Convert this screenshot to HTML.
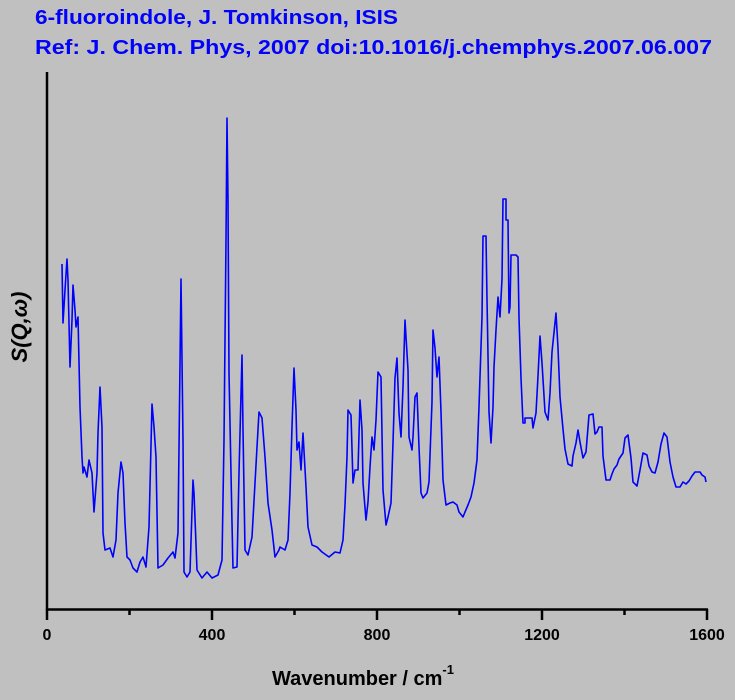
<!DOCTYPE html>
<html><head><meta charset="utf-8"><style>
html,body{margin:0;padding:0;background:#c0c0c0;}
svg{display:block;}
</style></head><body>
<svg width="735" height="700" viewBox="0 0 735 700" xmlns="http://www.w3.org/2000/svg" font-family="Liberation Sans, Arial, sans-serif">
<rect width="735" height="700" fill="#c0c0c0"/>
<text x="35" y="24" font-size="20" font-weight="bold" fill="#0000ff" textLength="363" lengthAdjust="spacingAndGlyphs">6-fluoroindole, J. Tomkinson, ISIS</text>
<text x="35" y="54" font-size="20" font-weight="bold" fill="#0000ff" textLength="677" lengthAdjust="spacingAndGlyphs">Ref: J. Chem. Phys, 2007 doi:10.1016/j.chemphys.2007.06.007</text>
<g stroke="#000" stroke-width="2.5" fill="none">
<line x1="47" y1="72" x2="47" y2="610"/>
<line x1="46" y1="609.5" x2="708" y2="609.5"/>
<line x1="47" y1="609" x2="47" y2="620"/>
<line x1="212" y1="609" x2="212" y2="620"/>
<line x1="377" y1="609" x2="377" y2="620"/>
<line x1="542" y1="609" x2="542" y2="620"/>
<line x1="707" y1="609" x2="707" y2="620"/>
<line x1="129.5" y1="609" x2="129.5" y2="615"/>
<line x1="294.5" y1="609" x2="294.5" y2="615"/>
<line x1="459.5" y1="609" x2="459.5" y2="615"/>
<line x1="624.5" y1="609" x2="624.5" y2="615"/>
</g>
<g font-size="16" font-weight="bold" fill="#000" text-anchor="middle">
<text x="47" y="640">0</text>
<text x="212" y="640">400</text>
<text x="377" y="640">800</text>
<text x="542" y="640">1200</text>
<text x="707" y="640">1600</text>
</g>
<text x="272" y="685" font-size="20" font-weight="bold" fill="#000">Wavenumber / cm<tspan font-size="13" dy="-11">-1</tspan></text>
<text transform="translate(27,327) rotate(-90)" font-size="22" font-weight="bold" font-style="italic" fill="#000" text-anchor="middle">S(Q,ω)</text>
<polyline fill="none" stroke="#0000ff" stroke-width="1.6" stroke-linejoin="round" points="
62,264 63,323 65,290 67,259 68,280 70,367 72,320 73,285 75,310 76,327 78,317 80,407 82,457 83,473 84,467 87,477 89,460 92,473 94,512 97,473 98,433 100,387 102,427 103,533 105,550 110,548 113,557 116,540 118,493 121,462 123,473 125,523 127,557 130,560 133,568 137,572 140,562 143,557 146,567 149,527 152,404 154,427 156,457 158,568 163,565 168,558 173,552 175,558 178,533 181,279 183,440 184,572 187,577 190,572 193,480 194,493 197,570 202,578 207,572 212,578 218,575 222,560 224,440 226,240 227,118 228,200 229,373 232,523 233,568 237,567 239,473 242,355 243,430 245,550 248,555 252,537 257,447 259,412 262,418 265,457 268,503 272,530 275,557 279,550 280,547 285,550 288,540 290,493 292,427 294,368 296,410 297,450 299,442 301,470 303,433 306,487 308,527 312,545 317,547 322,552 329,557 335,552 340,553 343,540 345,505 347,457 348,410 351,415 353,483 355,470 358,470 360,400 362,430 363,483 366,520 368,502 370,467 372,437 374,450 376,420 378,372 381,377 383,490 386,525 388,517 391,503 393,443 395,378 397,358 399,413 401,437 403,387 405,320 408,370 409,437 412,450 413,437 415,397 417,393 419,447 421,493 423,498 427,493 429,482 432,402 433,330 435,348 437,377 439,357 441,412 443,480 446,505 450,503 453,502 457,505 459,512 463,517 465,512 468,505 471,497 474,483 477,460 479,407 482,317 483,236 486,236 487,299 489,412 491,443 493,407 494,367 496,330 498,297 500,317 502,279 503,199 506,199 506,220 508,220 509,313 510,307 511,255 516,255 518,257 519,318 521,378 523,423 525,423 525,418 532,418 533,428 536,413 538,376 540,336 542,363 545,412 548,420 550,393 552,352 556,313 558,348 560,397 563,429 565,449 568,464 572,466 573,456 576,443 578,430 580,442 583,458 586,452 589,415 593,414 595,434 597,432 599,427 602,427 603,456 606,480 610,480 612,474 614,469 617,465 619,459 623,453 625,438 628,435 631,458 633,482 637,486 640,470 643,453 647,455 649,466 652,472 655,473 658,462 661,444 664,433 667,437 670,462 673,477 676,487 680,487 683,482 686,484 689,481 692,476 695,472 700,472 702,475 705,477 706,482"/>
</svg>
</body></html>
